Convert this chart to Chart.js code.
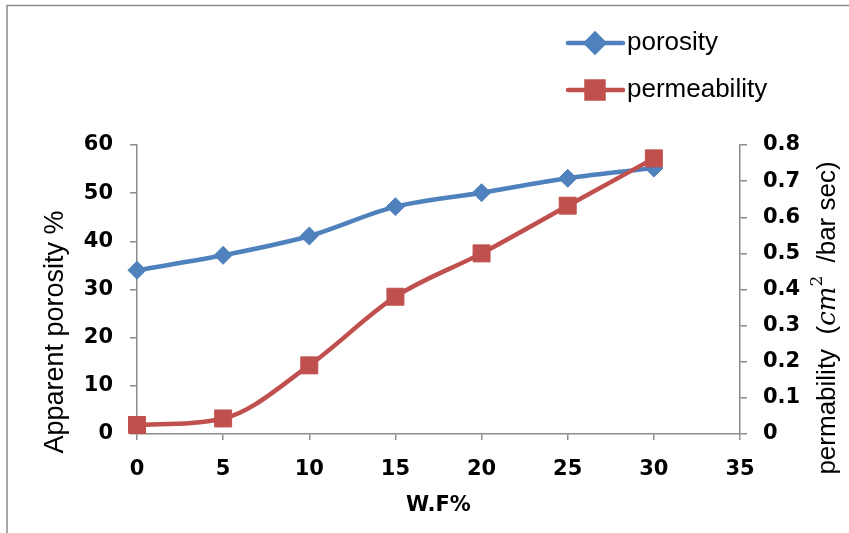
<html>
<head>
  <script src="https://cdn.jsdelivr.net/npm/chart.js@4/dist/chart.umd.min.js"></script>
  <style>
    body { margin: 0; background: #fff; }
    #wrap { width: 849px; height: 533px; }
  </style>
  <script>
    // values
    var wf = [0, 5, 10, 15, 20, 25, 30];
    var porosity = [34, 37.1, 41.1, 47.2, 50.1, 53.1, 55.2];
    var permeability = [0.025, 0.043, 0.19, 0.38, 0.5, 0.632, 0.763];
    var seriesNames = ["porosity", "permeability"];

    var blue = 'rgb(79,129,189)';
    var red = 'rgb(192,80,77)';
    var axisGrey = '#8c8c8c';
    var tickFont = { family: 'DejaVu Sans', weight: 'bold', size: 21 };

    var toPoints = (ys) => wf.map((x, i) => ({ x: x, y: ys[i] }));

    // frame, custom legend and the two rotated axis titles
    var extras = {
      id: 'extras',
      beforeDraw: (chart) => {
        var ctx = chart.ctx;
        ctx.save();
        ctx.strokeStyle = '#8c8c8c';
        ctx.lineWidth = 1.5;
        ctx.beginPath();
        ctx.moveTo(7, 533);
        ctx.lineTo(7, 5.5);
        ctx.lineTo(849, 5.5);
        ctx.stroke();
        ctx.restore();
      },
      afterDraw: (chart) => {
        var ctx = chart.ctx;
        ctx.save();
        // legend
        var rows = [
          { y: 43, color: blue, style: 'rectRot', radius: 9 },
          { y: 90, color: red, style: 'rect', radius: 12 }
        ];
        rows.forEach((r, i) => {
          ctx.strokeStyle = r.color;
          ctx.lineWidth = 4.5;
          ctx.lineCap = 'round';
          ctx.beginPath();
          ctx.moveTo(568, r.y);
          ctx.lineTo(623, r.y);
          ctx.stroke();
          ctx.fillStyle = r.color;
          Chart.helpers.drawPoint(ctx, { pointStyle: r.style, radius: r.radius, rotation: 0, borderWidth: 1 }, 595, r.y);
          ctx.fillStyle = '#000';
          ctx.font = '26px "Liberation Sans"';
          ctx.textBaseline = 'middle';
          ctx.textAlign = 'left';
          ctx.fillText(seriesNames[i], 627, r.y);
        });

        // left axis title
        ctx.save();
        ctx.translate(56, 332);
        ctx.rotate(-Math.PI / 2);
        ctx.font = '27px "Liberation Sans"';
        ctx.textAlign = 'center';
        ctx.textBaseline = 'middle';
        ctx.fillText('Apparent porosity %', 0, 0);
        ctx.restore();

        // right axis title with italic cm and superscript
        ctx.save();
        ctx.translate(828, 318);
        ctx.rotate(-Math.PI / 2);
        ctx.textBaseline = 'middle';
        var parts = [
          { t: 'permability  (', f: '26px "Liberation Sans"', dy: 0 },
          { t: 'cm', f: 'italic 26px "DejaVu Serif"', dy: 0 },
          { t: '2', f: '17px "DejaVu Serif"', dy: -10 },
          { t: ' /bar sec)', f: '26px "Liberation Sans"', dy: 0 }
        ];
        var total = 0;
        parts.forEach(p => { ctx.font = p.f; total += ctx.measureText(p.t).width + (p.t === '2' ? 6 : 0); });
        var x = -total / 2;
        ctx.textAlign = 'left';
        parts.forEach(p => {
          ctx.font = p.f;
          ctx.fillText(p.t, x, p.dy);
          x += ctx.measureText(p.t).width + (p.t === '2' ? 6 : 0);
        });
        ctx.restore();

        ctx.restore();
      }
    };

    window.onload = () => {
      var ctx = document.getElementById('myChart').getContext('2d');
      var myChart = new Chart(ctx, {
        type: 'line',
        data: {
          datasets: [{
            label: seriesNames[0],
            data: toPoints(porosity),
            yAxisID: 'y',
            borderColor: blue,
            backgroundColor: blue,
            borderWidth: 4.5,
            pointStyle: 'rectRot',
            pointRadius: 9,
            pointBorderWidth: 1,
            cubicInterpolationMode: 'monotone',
            fill: false,
            clip: false,
            order: 1
          }, {
            label: seriesNames[1],
            data: toPoints(permeability),
            yAxisID: 'y1',
            borderColor: red,
            backgroundColor: red,
            borderWidth: 4.5,
            pointStyle: 'rect',
            pointRadius: 12,
            pointBorderWidth: 1,
            cubicInterpolationMode: 'monotone',
            fill: false,
            clip: false,
            order: 0
          }]
        },
        options: {
          responsive: false,
          animation: false,
          layout: { padding: { top: 145, left: 0, right: 0, bottom: 0 } },
          plugins: {
            legend: { display: false },
            tooltip: { enabled: false }
          },
          scales: {
            x: {
              type: 'linear',
              min: 0, max: 35,
              ticks: { stepSize: 5, color: '#000', padding: 17, font: tickFont },
              grid: { drawOnChartArea: false, drawTicks: true, tickLength: 6, color: axisGrey, lineWidth: 1.5 },
              border: { display: true, color: axisGrey, width: 1.5 },
              title: { display: true, text: 'W.F%', color: '#000', padding: { top: 4, bottom: 15 }, font: { family: 'DejaVu Sans', weight: 'bold', size: 21 } },
              afterFit: s => { s.height = 99; }
            },
            y: {
              position: 'left',
              min: 0, max: 60,
              ticks: { stepSize: 10, color: '#000', padding: 17, font: tickFont },
              grid: { drawOnChartArea: false, drawTicks: true, tickLength: 7, color: axisGrey, lineWidth: 1.5 },
              border: { display: true, color: axisGrey, width: 1.5 },
              afterFit: s => { s.width = 137; }
            },
            y1: {
              position: 'right',
              min: 0, max: 0.8,
              ticks: {
                stepSize: 0.1, color: '#000', padding: 16,
                font: tickFont,
                callback: v => v === 0 ? '0' : v.toFixed(1)
              },
              grid: { drawOnChartArea: false, drawTicks: true, tickLength: 7, color: axisGrey, lineWidth: 1.5 },
              border: { display: true, color: axisGrey, width: 1.5 },
              afterFit: s => { s.width = 109; }
            }
          }
        },
        plugins: [extras]
      });
    };
  </script>
</head>
<body>
  <div id="wrap">
    <canvas id="myChart" width="849" height="533"></canvas>
  </div>
</body>
</html>
